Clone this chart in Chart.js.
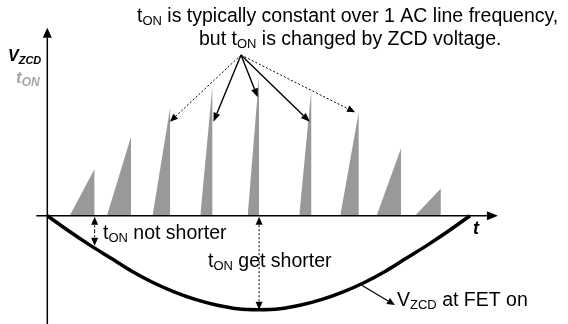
<!DOCTYPE html>
<html>
<head>
<meta charset="utf-8">
<script src="https://cdn.jsdelivr.net/npm/chart.js@4.4.1/dist/chart.umd.min.js"></script>
<style>
  body { margin: 0; background: #fff; }
  #wrap { width: 568px; height: 324px; position: relative; }
</style>
</head>
<body>
<div id="wrap"><canvas id="zcd"></canvas></div>
<script>
// t_ON ramps (t in ms over one half line cycle)
const rampStart = [0.53, 1.41, 2.49, 3.62, 4.74, 5.96, 6.93, 7.79, 8.70];
const rampEnd   = [1.12, 1.98, 2.91, 3.91, 5.01, 6.25, 7.37, 8.37, 9.31];
const rampPeak  = [0.50, 0.84, 1.16, 1.40, 1.49, 1.36, 1.11, 0.72, 0.29];

// V_ZCD at FET on (normalised)
const curveT = [0, 0.5, 1, 1.5, 2, 2.5, 3, 3.5, 4, 4.5, 5, 5.5, 6, 6.5, 7, 7.5, 8, 8.5, 9, 9.5, 10];
const curveV = [0, -0.16, -0.31, -0.45, -0.59, -0.71, -0.81, -0.89, -0.95, -0.99, -1.00,
                -0.99, -0.95, -0.89, -0.81, -0.71, -0.59, -0.45, -0.31, -0.16, 0];

// callout arrows from the top note to the ramps
const calloutTipT = [2.90, 3.93, 4.98, 6.21, 7.28];
const calloutTipV = [1.00, 1.00, 1.26, 1.00, 1.10];
const calloutDotted = [true, false, false, false, true];

const GRAY = '#999999';
const FONT = '"Liberation Sans", Arial, sans-serif';

const datasets = [];
datasets.push({
    data: curveT.map((t, i) => ({ x: t, y: curveV[i] })),
    showLine: true,
    borderColor: '#000',
    borderWidth: 3.5,
    pointRadius: 0,
    cubicInterpolationMode: 'monotone',
    fill: false
});
rampStart.forEach((s, i) => {
    datasets.push({
        data: [{ x: s, y: 0 }, { x: rampEnd[i], y: rampPeak[i] }, { x: rampEnd[i], y: 0 }],
        showLine: true,
        borderColor: 'rgba(0,0,0,0)',
        borderWidth: 0,
        backgroundColor: GRAY,
        pointRadius: 0,
        fill: 'origin'
    });
});

// draw a line with a filled head at (x2, y2)
function arrow(ctx, x1, y1, x2, y2, opts) {
    const len = opts.len || 8, half = opts.half || 3.5;
    const a = Math.atan2(y2 - y1, x2 - x1);
    const bx = x2 - len * Math.cos(a), by = y2 - len * Math.sin(a);
    ctx.save();
    ctx.strokeStyle = '#000';
    ctx.fillStyle = '#000';
    ctx.lineWidth = opts.width || 1.2;
    ctx.setLineDash(opts.dash || []);
    ctx.beginPath();
    ctx.moveTo(x1, y1);
    ctx.lineTo(bx, by);
    ctx.stroke();
    ctx.setLineDash([]);
    ctx.beginPath();
    ctx.moveTo(x2, y2);
    ctx.lineTo(bx + half * Math.sin(a), by - half * Math.cos(a));
    ctx.lineTo(bx - half * Math.sin(a), by + half * Math.cos(a));
    ctx.closePath();
    ctx.fill();
    ctx.restore();
}

// text made of runs, each run: [text, size, dy, style]
function runs(ctx, x, y, parts, color) {
    ctx.save();
    ctx.fillStyle = color || '#000';
    ctx.textBaseline = 'alphabetic';
    ctx.textAlign = 'left';
    parts.forEach(p => {
        ctx.font = (p[3] || '') + ' ' + p[1] + 'px ' + FONT;
        ctx.fillText(p[0], x, y + (p[2] || 0));
        x += ctx.measureText(p[0]).width;
    });
    ctx.restore();
}

const decor = {
    id: 'decor',
    afterDatasetsDraw(chart) {
        const ctx = chart.ctx;
        const xs = chart.scales.x, ys = chart.scales.y;
        const px = v => xs.getPixelForValue(v), py = v => ys.getPixelForValue(v);

        // axes
        arrow(ctx, px(0), chart.height, px(0), py(2.0), { width: 1.5, len: 10, half: 4.5 });
        arrow(ctx, px(-0.26), py(0), px(10.66), py(0), { width: 1.5, len: 11, half: 4.5 });

        // callouts from the note
        const ox = 241, oy = 55;
        calloutTipT.forEach((t, i) => {
            arrow(ctx, ox, oy, px(t), py(calloutTipV[i]),
                calloutDotted[i] ? { width: 1, dash: [2, 2], len: 8, half: 3.5 } : { width: 1.4, len: 9, half: 3.5 });
        });

        // dotted double arrows down to the curve
        [[rampEnd[0], -0.32], [rampEnd[4], -1.0]].forEach(([t, v]) => {
            const x = px(t);
            const yTop = py(0) + 1, yBot = py(v);
            const mid = (yTop + yBot) / 2;
            arrow(ctx, x, mid, x, yTop, { width: 1, dash: [2, 2], len: 8, half: 3.5 });
            arrow(ctx, x, mid, x, yBot, { width: 1, dash: [2, 2], len: 8, half: 3.5 });
        });

        // pointer to the curve label
        arrow(ctx, px(7.44), py(-0.74), 395, 305, { width: 1.2, len: 8, half: 3.5 });

        // texts
        runs(ctx, 137, 22, [['t', 19.5], ['ON', 13, 3], [' is typically constant over 1 AC line frequency,', 19.5]]);
        runs(ctx, 199, 45, [['but t', 19.5], ['ON', 13, 3], [' is changed by ZCD voltage.', 19.5]]);
        runs(ctx, 8, 61, [['V', 16, 0, 'italic bold'], ['ZCD', 11, 3, 'italic bold']]);
        runs(ctx, 16, 83, [['t', 17, 0, 'italic bold'], ['ON', 12, 3, 'italic bold']], '#a6a6a6');
        runs(ctx, 473, 234, [['t', 18, 0, 'italic bold']]);
        runs(ctx, 103, 239, [['t', 19.5], ['ON', 13, 3], [' not shorter', 19.5]]);
        runs(ctx, 208, 266.5, [['t', 19.5], ['ON', 13, 3], [' get shorter', 19.5]]);
        runs(ctx, 397, 306, [['V', 19.5], ['ZCD', 13, 3], [' at FET on', 19.5]]);
    }
};

new Chart(document.getElementById('zcd'), {
    type: 'scatter',
    data: { datasets: datasets },
    options: {
        responsive: true,
        maintainAspectRatio: false,
        animation: false,
        events: [],
        layout: { padding: 0 },
        plugins: { legend: { display: false }, tooltip: { enabled: false } },
        scales: {
            x: { type: 'linear', min: -1.119, max: 12.318, display: false },
            y: { type: 'linear', min: -1.152, max: 2.295, display: false }
        }
    },
    plugins: [decor]
});
</script>
</body>
</html>
